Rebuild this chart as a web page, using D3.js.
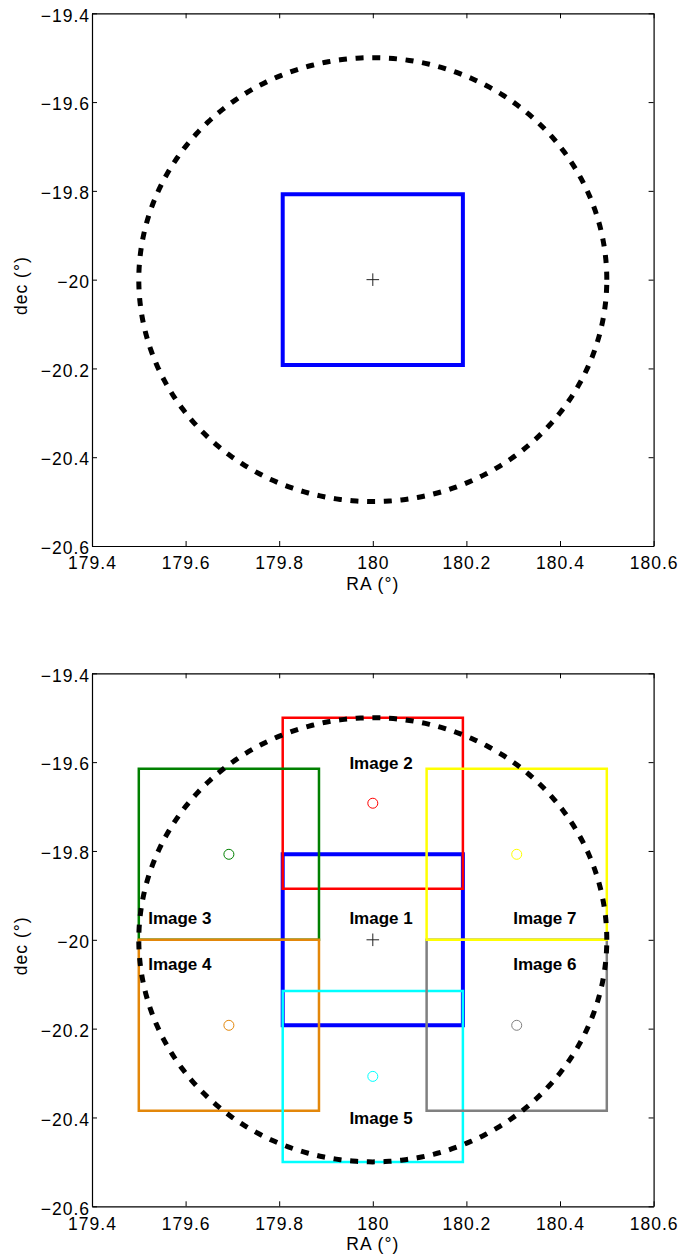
<!DOCTYPE html>
<html>
<head>
<meta charset="utf-8">
<script src="https://cdn.jsdelivr.net/npm/d3@7"></script>
<style>
  html, body { margin: 0; padding: 0; background: #fff; }
  svg { display: block; }
  .tick text { font-family: "Liberation Sans", Arial, sans-serif; font-size: 17.5px; letter-spacing: 1.0px; fill: #000; }
  .lbl { font-family: "Liberation Sans", Arial, sans-serif; font-size: 17.5px; letter-spacing: 1.0px; fill: #000; }
  .img-lbl { font-family: "Liberation Sans", Arial, sans-serif; font-size: 17px; font-weight: bold; fill: #000; }
</style>
</head>
<body>
<svg id="chart" width="680" height="1257"></svg>
<script>
// ---- data ----
const xTicks = [179.4, 179.6, 179.8, 180.0, 180.2, 180.4, 180.6];
const yTicks = [-19.4, -19.6, -19.8, -20.0, -20.2, -20.4, -20.6];
const xDomain = [179.4, 180.6];
const yDomain = [-20.6, -19.4];

const fieldCenter = [180.0, -20.0];   // RA, dec
const fieldRadius = 0.5;
const mainHalf = 0.1925;               // Image 1 half-size

const imageNames  = ["Image 2", "Image 3", "Image 4", "Image 5", "Image 6", "Image 7"];
const imageColors = ["#ff0000", "#008000", "#e3870a", "#00ffff", "#808080", "#ffff00"];
const imageRA     = [180.0, 179.6925, 179.6925, 180.0, 180.3075, 180.3075];
const imageDec    = [-19.6925, -19.8075, -20.1925, -20.3075, -20.1925, -19.8075];
const imageHalf   = 0.1925;

const labelNames = ["Image 1", "Image 2", "Image 3", "Image 4", "Image 5", "Image 6", "Image 7"];
const labelRA    = [179.95, 179.95, 179.52, 179.52, 179.95, 180.30, 180.30];
const labelDec   = [-19.965, -19.616, -19.965, -20.067, -20.415, -20.067, -19.965];

// ---- layout ----
const svg = d3.select("#chart");
const left = 92, right = 653.6;
const panels = [{top: 13.3, bottom: 546, full: false}, {top: 673.3, bottom: 1206.3, full: true}];

const x = d3.scaleLinear().domain(xDomain).range([left, right]);
const fmt = d3.format("");

panels.forEach(p => {
  const y = d3.scaleLinear().domain(yDomain).range([p.bottom, p.top]);
  const g = svg.append("g");

  const cid = "clip" + (p.full ? 2 : 1);
  svg.append("clipPath").attr("id", cid).append("rect")
    .attr("x", left).attr("y", p.top).attr("width", right - left).attr("height", p.bottom - p.top);
  const plot = g.append("g").attr("clip-path", `url(#${cid})`);

  const boxPath = (cx, cy, h) => {
    const x0 = x(cx - h), x1 = x(cx + h), y0 = y(cy + h), y1 = y(cy - h);
    return `M${x0},${y0}L${x1},${y0}L${x1},${y1}L${x0},${y1}Z`;
  };

  plot.append("path").attr("d", boxPath(fieldCenter[0], fieldCenter[1], mainHalf))
    .attr("fill", "none").attr("stroke", "#0000ff").attr("stroke-width", 4).attr("stroke-linejoin", "miter");

  if (p.full) {
    imageNames.forEach((n, i) => {
      plot.append("path").attr("d", boxPath(imageRA[i], imageDec[i], imageHalf))
        .attr("fill", "none").attr("stroke", imageColors[i]).attr("stroke-width", 2.5);
    });
  }

  const pts = d3.range(0, 361, 1).map(a => {
    const t = a * Math.PI / 180;
    return [x(fieldCenter[0] + fieldRadius * Math.cos(t)), y(fieldCenter[1] + fieldRadius * Math.sin(t))];
  });
  plot.append("path").attr("d", d3.line()(pts))
    .attr("fill", "none").attr("stroke", "#000").attr("stroke-width", 5)
    .attr("stroke-dasharray", "8,8.7");

  if (p.full) {
    imageNames.forEach((n, i) => {
      plot.append("circle").attr("cx", x(imageRA[i])).attr("cy", y(imageDec[i])).attr("r", 5)
        .attr("fill", "none").attr("stroke", imageColors[i]).attr("stroke-width", 1);
    });
  }

  const cx = x(fieldCenter[0]), cy = y(fieldCenter[1]);
  plot.append("path").attr("d", `M${cx - 6.3},${cy}H${cx + 6.3}M${cx},${cy - 6.3}V${cy + 6.3}`)
    .attr("stroke", "#222").attr("stroke-width", 1).attr("fill", "none");

  if (p.full) {
    labelNames.forEach((n, i) => {
      g.append("text").attr("class", "img-lbl")
        .attr("x", x(labelRA[i])).attr("y", y(labelDec[i])).text(n);
    });
  }

  const axB = g.append("g").attr("transform", `translate(0,${p.bottom})`)
    .call(d3.axisBottom(x).tickValues(xTicks).tickFormat(fmt).tickSizeInner(-5).tickSizeOuter(0).tickPadding(11));
  const axT = g.append("g").attr("transform", `translate(0,${p.top})`)
    .call(d3.axisTop(x).tickValues(xTicks).tickFormat("").tickSizeInner(-5).tickSizeOuter(0));
  const axL = g.append("g").attr("transform", `translate(${left},0)`)
    .call(d3.axisLeft(y).tickValues(yTicks).tickFormat(fmt).tickSizeInner(-5).tickSizeOuter(0).tickPadding(2));
  const axR = g.append("g").attr("transform", `translate(${right},0)`)
    .call(d3.axisRight(y).tickValues(yTicks).tickFormat("").tickSizeInner(-5).tickSizeOuter(0));
  axL.selectAll(".tick text").attr("dy", "0.44em");
  [axB, axT, axL, axR].forEach(a => {
    a.selectAll("path.domain").attr("stroke", "#000").attr("stroke-width", 1.2);
    a.selectAll(".tick line").attr("stroke", "#000").attr("stroke-width", 1);
    a.attr("font-family", null).attr("font-size", null);
  });

  g.append("text").attr("class", "lbl").attr("text-anchor", "middle")
    .attr("x", (left + right) / 2).attr("y", p.bottom + 44).text("RA (°)");
  g.append("text").attr("class", "lbl").attr("text-anchor", "middle")
    .attr("transform", `translate(27,${(p.top + p.bottom) / 2 + 6}) rotate(-90)`).text("dec (°)");
});
</script>
</body>
</html>
